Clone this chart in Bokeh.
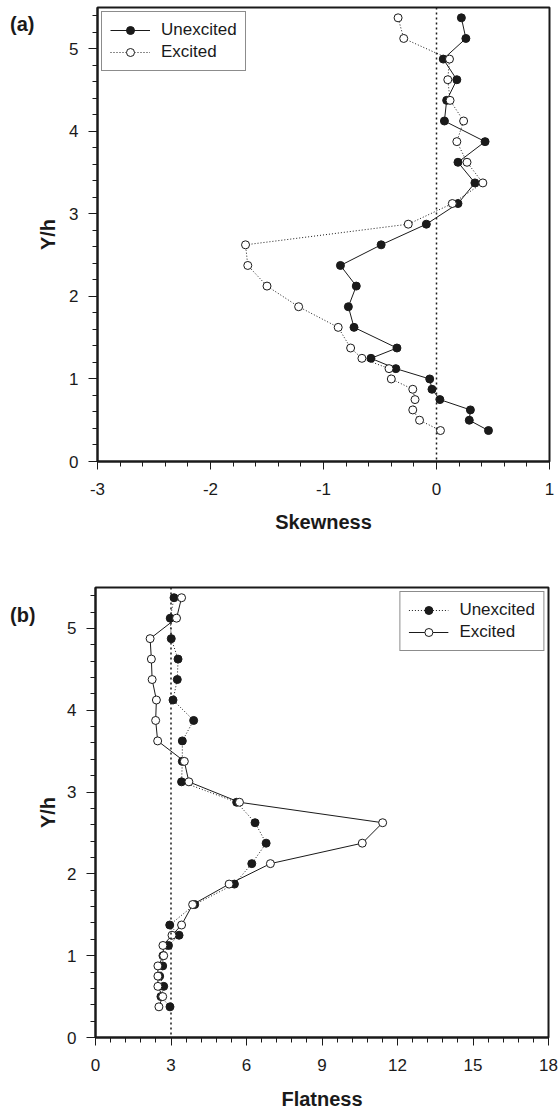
from bokeh.plotting import figure
from bokeh.layouts import column, row
from bokeh.models import (Legend, LegendItem, Span, SingleIntervalTicker, Range1d,
                          Div, PrintfTickFormatter)
from bokeh.embed import file_html
from bokeh.resources import INLINE

# ---- data ----
y_pos = [0.375, 0.5, 0.625, 0.75, 0.875, 1.0, 1.125, 1.25, 1.375,
         1.625, 1.875, 2.125, 2.375, 2.625, 2.875, 3.125, 3.375, 3.625,
         3.875, 4.125, 4.375, 4.625, 4.875, 5.125, 5.375]

skew_unexcited = [0.46, 0.29, 0.30, 0.03, -0.04, -0.06, -0.36, -0.58, -0.35,
                  -0.73, -0.78, -0.71, -0.85, -0.49, -0.09, 0.19, 0.34, 0.19,
                  0.43, 0.07, 0.09, 0.18, 0.06, 0.26, 0.22]
skew_excited = [0.035, -0.15, -0.21, -0.19, -0.21, -0.40, -0.42, -0.66, -0.76,
                -0.87, -1.22, -1.50, -1.67, -1.69, -0.25, 0.14, 0.41, 0.27,
                0.18, 0.24, 0.12, 0.10, 0.115, -0.29, -0.34]

flat_unexcited = [2.96, 2.60, 2.71, 2.55, 2.67, 2.68, 2.90, 3.32, 2.95,
                  3.94, 5.52, 6.21, 6.78, 6.34, 5.61, 3.42, 3.45, 3.45,
                  3.90, 3.08, 3.25, 3.28, 3.01, 2.97, 3.12]
flat_excited = [2.52, 2.67, 2.48, 2.48, 2.48, 2.71, 2.68, 3.04, 3.42,
                3.86, 5.31, 6.95, 10.60, 11.41, 5.72, 3.71, 3.53, 2.47,
                2.39, 2.42, 2.25, 2.22, 2.17, 3.22, 3.42]

series_names = ["Unexcited", "Excited"]
panel_labels = ["(a)", "(b)"]
x_titles = ["Skewness", "Flatness"]
y_title = "Y/h"

FONT = "Liberation Sans"
INK = "#1a1a1a"


def style(p, x_interval):
    p.xaxis.ticker = SingleIntervalTicker(interval=x_interval, num_minor_ticks=5)
    p.yaxis.ticker = SingleIntervalTicker(interval=1, num_minor_ticks=5)
    for ax in (p.xaxis[0], p.yaxis[0]):
        ax.formatter = PrintfTickFormatter(format="%d")
        ax.axis_line_width = 2
        ax.axis_line_color = INK
        ax.major_tick_line_color = INK
        ax.minor_tick_line_color = INK
        ax.major_tick_in = 0
        ax.minor_tick_in = 0
        ax.major_label_text_font = FONT
        ax.major_label_text_font_size = "17px"
        ax.major_label_text_color = INK
        ax.axis_label_text_font = FONT
        ax.axis_label_text_font_size = "20px"
        ax.axis_label_text_font_style = "bold"
        ax.axis_label_text_color = INK
    p.xaxis.major_label_standoff = 13
    p.yaxis.major_label_standoff = 10
    p.xaxis.major_tick_out = 8
    p.xaxis.minor_tick_out = 5
    p.yaxis.major_tick_out = 9
    p.yaxis.minor_tick_out = 5
    p.xgrid.visible = False
    p.ygrid.visible = False
    p.outline_line_color = INK
    p.outline_line_width = 2
    p.outline_line_alpha = 1
    p.background_fill_color = "white"
    p.border_fill_color = "white"


def add_series(p, xs, dash, filled, name):
    ln = p.line(xs, y_pos, line_color=INK, line_width=1, line_dash=dash)
    sc = p.scatter(xs, y_pos, marker="circle", size=8,
                   fill_color=INK if filled else "white",
                   line_color=INK, line_width=1)
    return LegendItem(label=name, renderers=[ln, sc])


def add_legend(p, items, loc):
    lg = Legend(items=items, location=loc)
    lg.label_text_font = FONT
    lg.label_text_font_size = "17px"
    lg.label_text_color = INK
    lg.glyph_width = 40
    lg.glyph_height = 20
    lg.label_height = 20
    lg.label_standoff = 11
    lg.spacing = 2
    lg.padding = 8
    lg.margin = 4
    lg.border_line_color = INK
    lg.border_line_width = 1
    lg.background_fill_alpha = 1
    p.add_layout(lg)


def panel_div(text, top, height):
    html = ('<div style="margin-top:%dpx;margin-left:10px;font-family:\'%s\';'
            'font-size:20px;font-weight:bold;line-height:23px;color:%s;'
            'white-space:nowrap;">%s</div>' % (top, FONT, INK, text))
    return Div(text=html, width=34, height=height, margin=0)


# ---- panel (a) ----
p1 = figure(width=524, height=540, output_backend="svg", toolbar_location=None,
            x_range=Range1d(-3, 1), y_range=Range1d(0, 5.5),
            min_border_left=62, min_border_right=9, min_border_top=7,
            min_border_bottom=79)
style(p1, 1)
p1.xaxis.axis_label = x_titles[0]
p1.yaxis.axis_label = y_title
p1.xaxis.axis_label_standoff = 13
p1.yaxis.axis_label_standoff = 7
p1.add_layout(Span(location=0, dimension="height", line_color=INK,
                   line_width=1.5, line_dash="2 3"))
it_u = add_series(p1, skew_unexcited, "solid", True, series_names[0])
it_e = add_series(p1, skew_excited, "1 2", False, series_names[1])
add_legend(p1, [it_u, it_e], "top_left")

# ---- panel (b) ----
p2 = figure(width=524, height=572, output_backend="svg", toolbar_location=None,
            x_range=Range1d(0, 18), y_range=Range1d(0, 5.5),
            min_border_left=60, min_border_right=10, min_border_top=47,
            min_border_bottom=72)
style(p2, 3)
p2.xaxis.axis_label = x_titles[1]
p2.yaxis.axis_label = y_title
p2.xaxis.axis_label_standoff = 14
p2.yaxis.axis_label_standoff = 5
p2.add_layout(Span(location=3, dimension="height", line_color=INK,
                   line_width=1.5, line_dash="2 3"))
it_u2 = add_series(p2, flat_unexcited, "1 2", True, series_names[0])
it_e2 = add_series(p2, flat_excited, "solid", False, series_names[1])
add_legend(p2, [it_u2, it_e2], "top_right")

layout = column(row(panel_div(panel_labels[0], 13, 540), p1, spacing=0),
                row(panel_div(panel_labels[1], 64, 572), p2, spacing=0),
                spacing=0)
open("out.html", "w").write(file_html(layout, INLINE))
